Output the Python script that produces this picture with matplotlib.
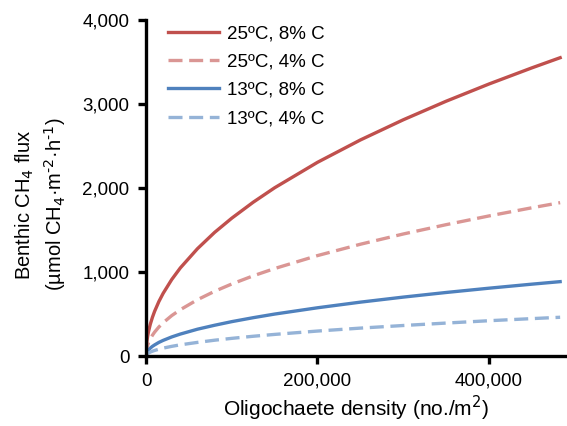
import numpy as np
import matplotlib.pyplot as plt
from matplotlib.ticker import FuncFormatter

plt.rcParams['font.family'] = ['Liberation Sans', 'DejaVu Sans']

# oligochaete density (no./m2)
density = [0, 500, 1000, 2000, 3000, 5000, 7500, 10000, 15000, 20000,
           30000, 40000, 60000, 80000, 100000, 125000, 150000, 200000,
           250000, 300000, 350000, 400000, 450000, 483000]

# benthic CH4 flux (umol CH4 m-2 h-1)
flux_25_8 = [0, 122, 172, 241, 294, 378, 461, 531, 648, 746,
             910, 1048, 1277, 1471, 1640, 1830, 2002, 2305,
             2571, 2811, 3032, 3237, 3429, 3550]
flux_25_4 = [0, 67, 94, 131, 159, 203, 247, 284, 345, 396,
             481, 551, 670, 770, 857, 954, 1041, 1195,
             1330, 1452, 1563, 1667, 1764, 1825]
flux_13_8 = [0, 31, 43, 60, 73, 94, 115, 132, 162, 186,
             227, 261, 319, 366, 409, 456, 499, 574,
             641, 701, 756, 807, 855, 885]
flux_13_4 = [0, 15, 21, 30, 36, 47, 57, 66, 81, 94,
             115, 133, 162, 188, 210, 235, 257, 297,
             332, 363, 392, 420, 445, 461]

x_ticks = [0, 200000, 400000]
y_ticks = [0, 1000, 2000, 3000, 4000]

fig = plt.figure(figsize=(5.67, 4.26), dpi=100)
ax = fig.add_axes([0.2575, 0.1643, 0.7425, 0.789])

lw = 2.4
ax.plot(density, flux_25_8, color='#C0504D', lw=lw, label='25ºC, 8% C')
ax.plot(density, flux_25_4, color='#DA9694', lw=lw, ls=(0, (4.2, 2)),
        dash_capstyle='butt', label='25ºC, 4% C')
ax.plot(density, flux_13_8, color='#4F81BD', lw=lw, label='13ºC, 8% C')
ax.plot(density, flux_13_4, color='#95B3D7', lw=lw, ls=(0, (4.2, 2)),
        dash_capstyle='butt', label='13ºC, 4% C')

ax.set_xlim(0, 491000)
ax.set_ylim(0, 4000)
ax.set_xticks(x_ticks)
ax.set_yticks(y_ticks)
fmt = FuncFormatter(lambda v, p: f'{int(v):,}')
ax.xaxis.set_major_formatter(fmt)
ax.yaxis.set_major_formatter(fmt)

for side in ['top', 'right']:
    ax.spines[side].set_visible(False)
for side in ['left', 'bottom']:
    ax.spines[side].set_linewidth(2.4)
ax.tick_params(direction='out', length=6, width=2.4, labelsize=13.5, pad=6)

ax.set_xlabel('Oligochaete density (no./m$^2$)', fontsize=15, labelpad=3)
ax.set_ylabel('Benthic CH$_4$ flux\n'
              r'(µmol CH$_4$·m$^{\text{-}2}$·h$^{\text{-}1}$)',
              fontsize=14.5, linespacing=1.3)
ax.yaxis.set_label_coords(-0.186, 0.45)

ax.legend(loc='upper left', bbox_to_anchor=(0.013, 1.035), frameon=False,
          fontsize=13.5, handlelength=2.7, handletextpad=0.45, labelspacing=0.6)

fig.savefig('out.png', dpi=100)
